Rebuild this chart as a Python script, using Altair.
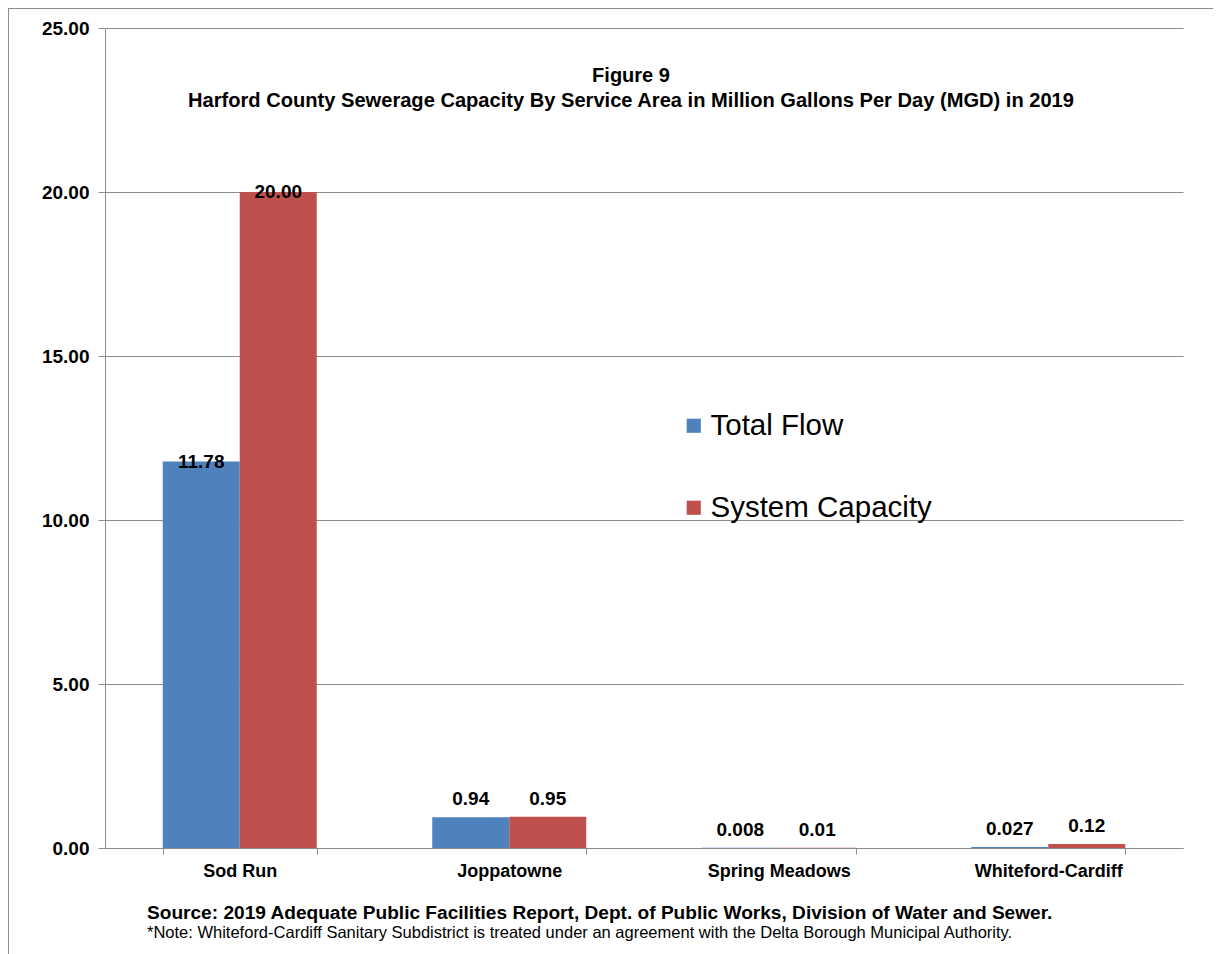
import altair as alt
import pandas as pd

areas = ["Sod Run", "Joppatowne", "Spring Meadows", "Whiteford-Cardiff"]
series = ["Total Flow", "System Capacity"]
total_flow = [11.78, 0.94, 0.008, 0.027]
system_capacity = [20.00, 0.95, 0.01, 0.12]
total_flow_labels = ["11.78", "0.94", "0.008", "0.027"]
system_capacity_labels = ["20.00", "0.95", "0.01", "0.12"]
y_ticks = [0, 5, 10, 15, 20, 25]
colors = ["#4F81BD", "#C0504D"]

title_line1 = "Figure 9"
title_line2 = "Harford County Sewerage Capacity By Service Area in Million Gallons Per Day (MGD) in 2019"
source_line = "Source: 2019 Adequate Public Facilities Report, Dept. of Public Works, Division of  Water and Sewer."
note_line = "*Note: Whiteford-Cardiff Sanitary Subdistrict is treated under an agreement with the Delta Borough Municipal Authority."

rows = []
for i, a in enumerate(areas):
    rows.append({"area": a, "series": series[0], "value": total_flow[i], "label": total_flow_labels[i]})
    rows.append({"area": a, "series": series[1], "value": system_capacity[i], "label": system_capacity_labels[i]})
df = pd.DataFrame(rows)

FONT = "Liberation Sans, Arial, sans-serif"
GRID = "#8C8C8C"

base = alt.Chart(df)

x_enc = alt.X("area:N", sort=areas, title=None,
              scale=alt.Scale(paddingInner=0.4286, paddingOuter=0.2143),
              axis=alt.Axis(labelAngle=0, labelFont=FONT, labelFontSize=18, labelFontWeight="bold",
                            labelColor="black", labelPadding=8, tickBand="extent", tickSize=6,
                            tickColor=GRID, domainColor=GRID, grid=False))
y_enc = alt.Y("value:Q", title=None,
              scale=alt.Scale(domain=[0, 25], nice=False),
              axis=alt.Axis(values=y_ticks, format=".2f", labelFont=FONT, labelFontSize=19,
                            labelFontWeight="bold", labelColor="black", labelPadding=9,
                            tickSize=7, tickColor=GRID, domainColor=GRID, gridColor=GRID,
                            gridOpacity=1, gridWidth=1))
xo = alt.XOffset("series:N", sort=series, scale=alt.Scale(paddingInner=0, paddingOuter=0))

bars = base.mark_bar().encode(
    x=x_enc, y=y_enc, xOffset=xo,
    color=alt.Color("series:N", sort=series, title=None,
                    scale=alt.Scale(domain=series, range=colors),
                    legend=alt.Legend(orient="none", legendX=574, legendY=383,
                                      symbolType="square", symbolSize=200, symbolStrokeWidth=0,
                                      labelFont=FONT, labelFontSize=29.5, labelColor="black",
                                      rowPadding=51, labelOffset=2, labelLimit=400)),
)

text_big = base.transform_filter("datum.value > 5").mark_text(
    font=FONT, fontSize=19, fontWeight="bold", color="black", baseline="middle"
).encode(x=alt.X("area:N", sort=areas), y="value:Q", xOffset=xo, text="label:N")

text_small = base.transform_filter("datum.value <= 5").mark_text(
    font=FONT, fontSize=19, fontWeight="bold", color="black", baseline="middle", dy=-18
).encode(x=alt.X("area:N", sort=areas), y="value:Q", xOffset=xo, text="label:N")

one = alt.Data(values=[{}])

def txt(s, x, y, size, weight, align):
    return alt.Chart(one).mark_text(
        text=s, font=FONT, fontSize=size, fontWeight=weight, color="black", align=align, baseline="middle"
    ).encode(x=alt.value(x), y=alt.value(y))

t1 = txt(title_line1, 526, 48, 20, "bold", "center")
t2 = txt(title_line2, 526, 73, 20.1, "bold", "center")
s1 = txt(source_line, 42, 885, 19.1, "bold", "left")
s2 = txt(note_line, 42, 905, 16.5, "normal", "left")

border_top = alt.Chart(one).mark_rule(color="#8C8C8C", strokeWidth=2).encode(
    x=alt.value(-97), x2=alt.value(1200), y=alt.value(-20))
border_left = alt.Chart(one).mark_rule(color="#8C8C8C", strokeWidth=2).encode(
    x=alt.value(-97), y=alt.value(-20), y2=alt.value(1000))

chart = alt.layer(bars, text_big, text_small, t1, t2, s1, s2, border_top, border_left).properties(
    width=1078, height=820,
    padding={"left": 97, "top": 20, "right": 30, "bottom": 120},
    autosize=alt.AutoSizeParams(type="none"),
).configure(background="white").configure_view(stroke=None)

chart.save("out.html", embed_options={"renderer": "svg", "actions": False})
